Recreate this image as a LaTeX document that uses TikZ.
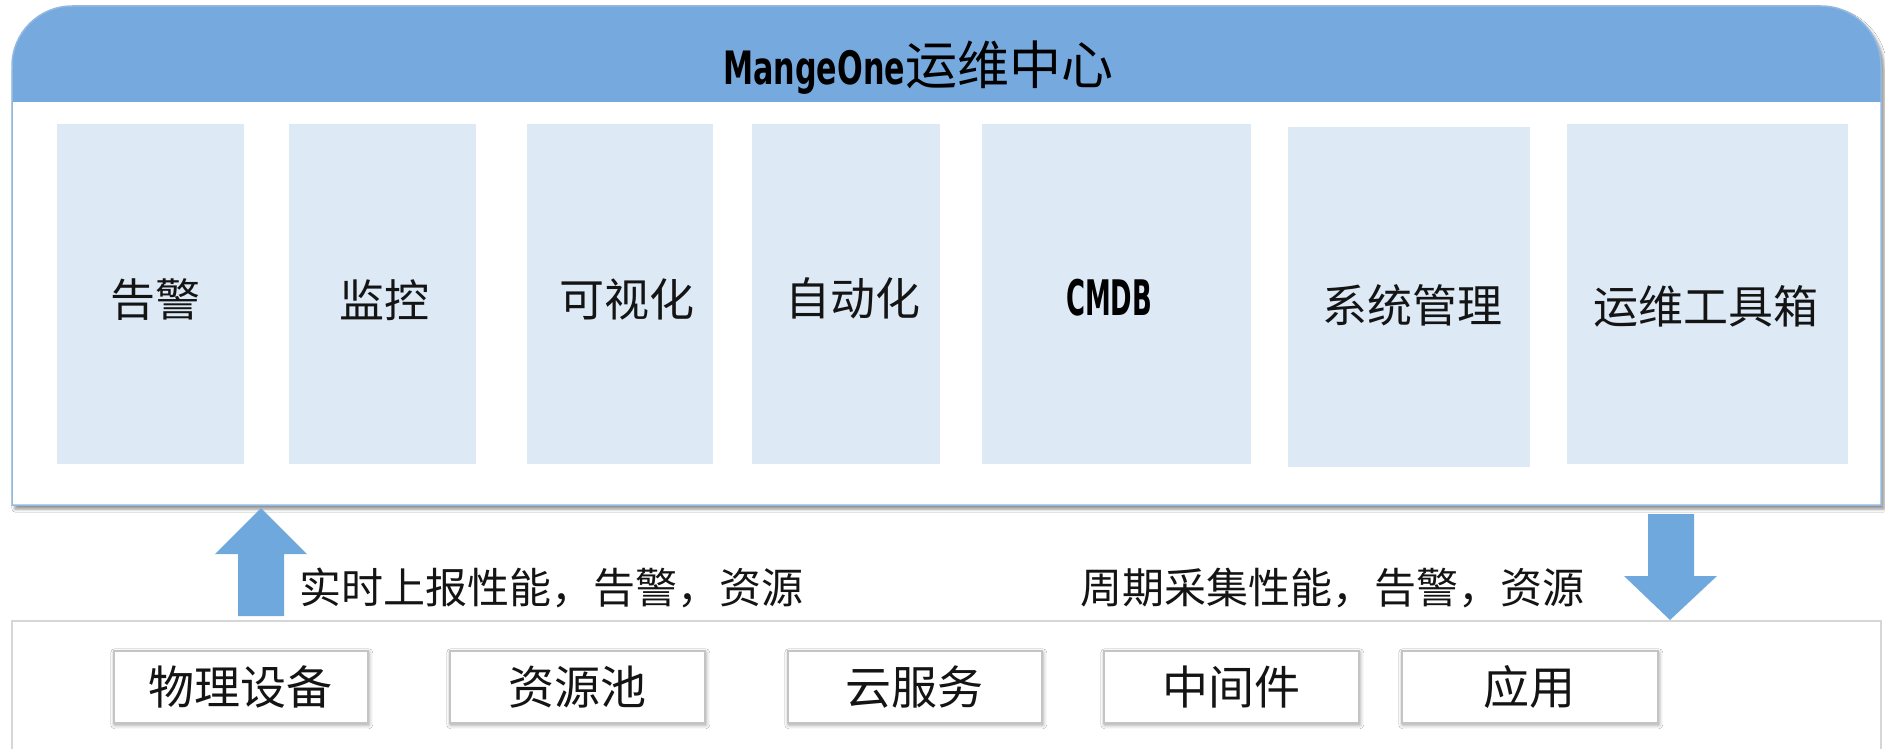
\documentclass[tikz,border=0pt]{standalone}
\usepackage{fontspec}
\usepackage{graphicx}
\usetikzlibrary{shadows.blur}
\newfontfamily\cjk{Noto Sans CJK SC}
\newfontfamily\dvs{DejaVu Sans}
\definecolor{hdr}{HTML}{76AADF}
\definecolor{boxblue}{HTML}{DDEAF6}
\definecolor{panelline}{HTML}{95B8E0}
\definecolor{arrowblue}{HTML}{6FA8DC}
\definecolor{botline}{HTML}{D6D6D6}
\definecolor{devline}{HTML}{C4C4C4}
\tikzset{
  modbox/.style={fill=boxblue, draw=none, inner sep=0pt, anchor=north west},
  modtext/.style={font=\cjk\fontsize{45}{45}\selectfont, text=black!92, inner sep=0pt},
  devbox/.style={fill=white, draw=devline, line width=1.5pt, inner sep=0pt, anchor=north west,
    minimum height=72pt,
    blur shadow={shadow xshift=1pt, shadow yshift=-2pt, shadow blur radius=4pt, shadow opacity=45},
    font=\cjk\fontsize{46}{46}\selectfont, text=black!92},
  flowtext/.style={font=\cjk\fontsize{42}{42}\selectfont, text=black!92, inner sep=0pt, anchor=west},
  blockarrow/.style={fill=arrowblue, draw=none}
}
\begin{document}
\begin{tikzpicture}[x=1pt,y=-1pt]
\useasboundingbox[fill=white] (0,0) rectangle (1885,749);

% bottom panel
\draw[botline, line width=1.5pt] (12,749) -- (12,621) -- (1881,621) -- (1881,749);

% top panel with shadow
\path[fill=white, blur shadow={shadow xshift=3pt, shadow yshift=-4pt, shadow blur radius=3pt, shadow opacity=45}]
  (12,505) -- (12,66) arc[start angle=180, end angle=270, radius=60] -- (1821,6)
  arc[start angle=270, end angle=360, radius=60] -- (1881,505) -- cycle;
\fill[hdr]
  (12,102) -- (12,66) arc[start angle=180, end angle=270, radius=60] -- (1821,6)
  arc[start angle=270, end angle=360, radius=60] -- (1881,102) -- cycle;
\draw[panelline, line width=1.5pt]
  (12,505) -- (12,66) arc[start angle=180, end angle=270, radius=60] -- (1821,6)
  arc[start angle=270, end angle=360, radius=60] -- (1881,505) -- cycle;

% title
\node[anchor=base west, inner sep=0pt] (title) at (723,85)
  {\resizebox{182pt}{\height}{\dvs\bfseries\fontsize{46}{46}\selectfont MangeOne}\cjk\fontsize{52}{52}\selectfont 运维中心};

% module boxes
\node[modbox, minimum width=187pt, minimum height=340pt] (b1) at (57,124) {};
\node[modbox, minimum width=187pt, minimum height=340pt] (b2) at (289,124) {};
\node[modbox, minimum width=186pt, minimum height=340pt] (b3) at (527,124) {};
\node[modbox, minimum width=188pt, minimum height=340pt] (b4) at (752,124) {};
\node[modbox, minimum width=269pt, minimum height=340pt] (b5) at (982,124) {};
\node[modbox, minimum width=242pt, minimum height=340pt] (b6) at (1288,127) {};
\node[modbox, minimum width=281pt, minimum height=340pt] (b7) at (1567,124) {};

\node[modtext] (t1) at (155,300) {告警};
\node[modtext] (t2) at (384,300) {监控};
\node[modtext] (t3) at (627,299) {可视化};
\node[modtext] (t4) at (853,298) {自动化};
\node[inner sep=0pt, anchor=base] (t5) at (1109,315)
  {\resizebox{86pt}{\height}{\dvs\bfseries\fontsize{49}{49}\selectfont CMDB}};
\node[modtext] (t6) at (1412,305) {系统管理};
\node[modtext] (t7) at (1706,306) {运维工具箱};

% block arrows
\fill[blockarrow] (261,508) -- (307,554) -- (284,554) -- (284,616) -- (238,616) -- (238,554) -- (215,554) -- cycle;
\fill[blockarrow] (1648,514) -- (1694,514) -- (1694,576) -- (1717,576) -- (1670,620) -- (1624,576) -- (1648,576) -- cycle;

\node[flowtext] (up) at (299,588) {实时上报性能，告警，资源};
\node[flowtext] (down) at (1080,588) {周期采集性能，告警，资源};

% device boxes
\node[devbox, minimum width=254pt] (p1) at (113,650) {物理设备};
\node[devbox, minimum width=255pt] (p2) at (449,650) {资源池};
\node[devbox, minimum width=254pt] (p3) at (787,650) {云服务};
\node[devbox, minimum width=255pt] (p4) at (1103,650) {中间件};
\node[devbox, minimum width=256pt] (p5) at (1401,650) {应用};
\end{tikzpicture}
\end{document}
